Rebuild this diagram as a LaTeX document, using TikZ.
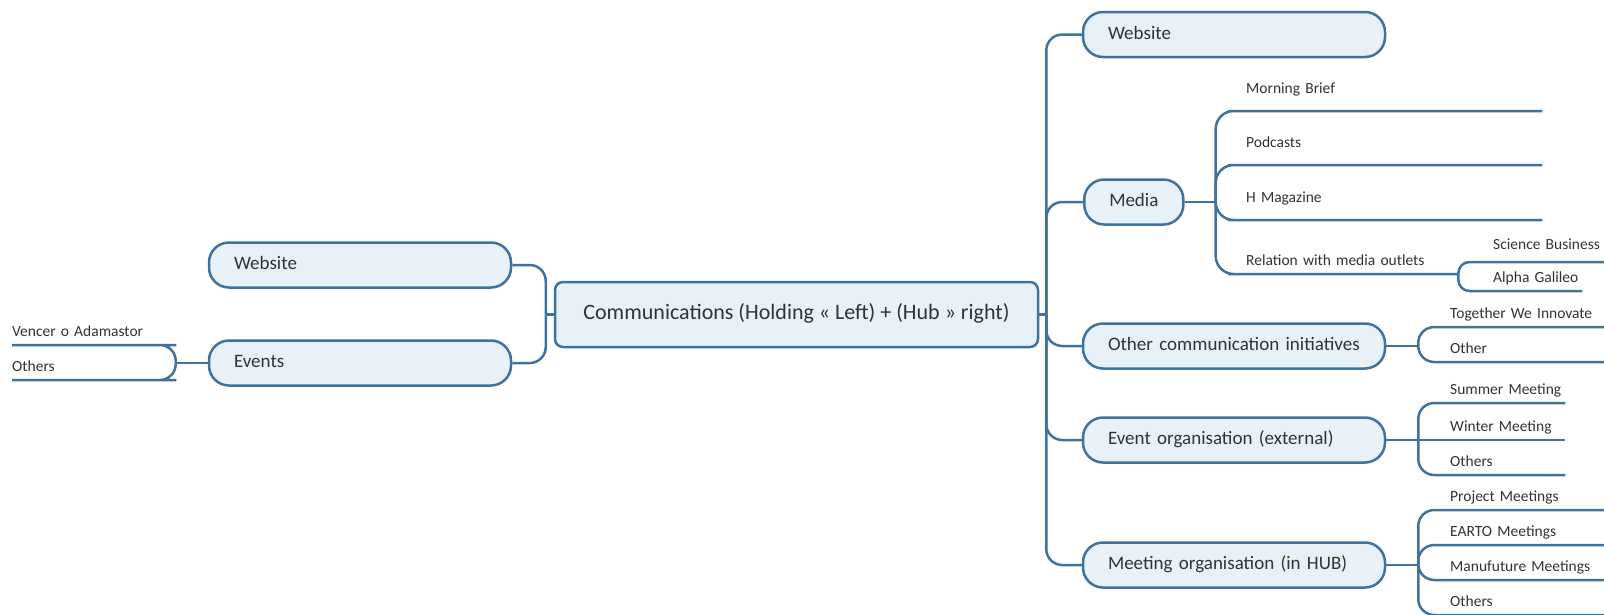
\documentclass[tikz,border=0pt]{standalone}
\usepackage{fontspec}
\setmainfont{Carlito}
\definecolor{branch}{RGB}{64,114,158}
\definecolor{boxfill}{RGB}{232,240,248}
\definecolor{ink}{RGB}{51,51,51}

\begin{document}
\begin{tikzpicture}[x=1pt,y=-1pt,
  link/.style={draw=branch, line width=2.5pt, rounded corners=16pt},
  hub/.style={draw=branch, fill=boxfill, line width=2.5pt, rounded corners=8pt,
    minimum width=483pt, minimum height=65pt, text height=15pt, text depth=5pt,
    font=\fontsize{22}{26}\selectfont, text=ink},
  topic/.style={draw=branch, fill=boxfill, line width=2.5pt, rounded corners=20pt,
    minimum height=45pt, inner xsep=25pt, text height=13pt, text depth=4pt,
    font=\fontsize{19}{23}\selectfont, text=ink},
  widetopic/.style={topic, text width=252pt, align=left},
  leaf/.style={anchor=south west, inner xsep=0pt, inner ysep=8pt, text depth=0pt,
    font=\fontsize{15.5}{18}\selectfont, text=ink, align=left},
  tallleaf/.style={leaf, inner ysep=17pt},
]
\clip (0,0) rectangle (1604,614);
\fill[white] (0,0) rectangle (1604,614);

% central topic
\node[hub] (hub) at (796.5,314.5) {Communications (Holding « Left) + (Hub » right)};

% left side
\node[widetopic] (lweb) at (360,265) {Website};
\node[widetopic] (levents) at (360,363) {Events};
\node[leaf, text width=148pt] (vencer) at (12,345) {Vencer o Adamastor};
\node[leaf, text width=148pt] (lothers) at (12,380) {Others};

% right side: main topics
\node[widetopic] (rweb) at (1234,34.5) {Website};
\node[topic, anchor=west] (media) at (1083,202) {Media};
\node[widetopic] (other) at (1234,346) {Other communication initiatives};
\node[widetopic] (event) at (1234,440) {Event organisation (external)};
\node[widetopic] (meeting) at (1234,565) {Meeting organisation (in HUB)};

% media items
\node[tallleaf, text width=296pt] (brief) at (1246,111) {Morning Brief};
\node[tallleaf, text width=296pt] (podcasts) at (1246,165) {Podcasts};
\node[tallleaf, text width=296pt] (hmag) at (1246,220) {H Magazine};
\node[leaf, text width=212pt] (relation) at (1246,274) {Relation with media outlets};
\node[leaf, inner ysep=12pt, text width=130pt] (science) at (1493,262) {Science Business};
\node[leaf, text width=89pt] (alpha) at (1493,291) {Alpha Galileo};

% other initiatives
\node[leaf, text width=170pt] (together) at (1450,327) {Together We Innovate};
\node[leaf, text width=170pt] (otherleaf) at (1450,362) {Other};

% external events
\node[leaf, text width=115pt] (summer) at (1450,403) {Summer Meeting};
\node[leaf, text width=115pt] (winter) at (1450,440) {Winter Meeting};
\node[leaf, text width=115pt] (eothers) at (1450,475) {Others};

% meetings in the hub
\node[leaf, text width=170pt] (project) at (1450,510) {Project Meetings};
\node[leaf, text width=170pt] (earto) at (1450,545) {EARTO Meetings};
\node[leaf, text width=170pt] (manu) at (1450,580) {Manufuture Meetings};
\node[leaf, text width=170pt] (mothers) at (1450,615) {Others};

% left connectors
\coordinate (jl) at ([xshift=-8pt]hub.west);
\draw[link] (hub.west) -- (jl);
\draw[link] (jl) |- (lweb.east);
\draw[link] (jl) |- (levents.east);
\coordinate (jle) at ([xshift=-32pt]levents.west);
\draw[link] (levents.west) -- (jle);
\foreach \n in {vencer,lothers}
  \draw[link] (jle) |- (\n.south east) -- (\n.south west);

% right trunk
\coordinate (jr) at ([xshift=7pt]hub.east);
\draw[link] (hub.east) -- (jr);
\foreach \n in {rweb,media,other,event,meeting}
  \draw[link] (jr) |- (\n.west);

% media branch
\coordinate (jm) at ([xshift=31pt]media.east);
\draw[link] (media.east) -- (jm);
\foreach \n in {brief,podcasts,hmag,relation}
  \draw[link, rounded corners=18pt] (jm) |- (\n.south west) -- (\n.south east);
\foreach \n in {science,alpha}
  \draw[link, rounded corners=11pt] (relation.south east) |- (\n.south west) -- (\n.south east);

% other initiatives branch
\coordinate (jo) at ([xshift=32pt]other.east);
\draw[link] (other.east) -- (jo);
\foreach \n in {together,otherleaf}
  \draw[link] (jo) |- (\n.south west) -- (\n.south east);

% external events branch
\coordinate (je) at ([xshift=32pt]event.east);
\draw[link] (event.east) -- (je) -- (winter.south west) -- (winter.south east);
\foreach \n in {summer,eothers}
  \draw[link] (je) |- (\n.south west) -- (\n.south east);

% meetings branch
\coordinate (jmt) at ([xshift=32pt]meeting.east);
\draw[link] (meeting.east) -- (jmt);
\foreach \n in {project,earto,manu,mothers}
  \draw[link] (jmt) |- (\n.south west) -- (\n.south east);
\end{tikzpicture}
\end{document}
